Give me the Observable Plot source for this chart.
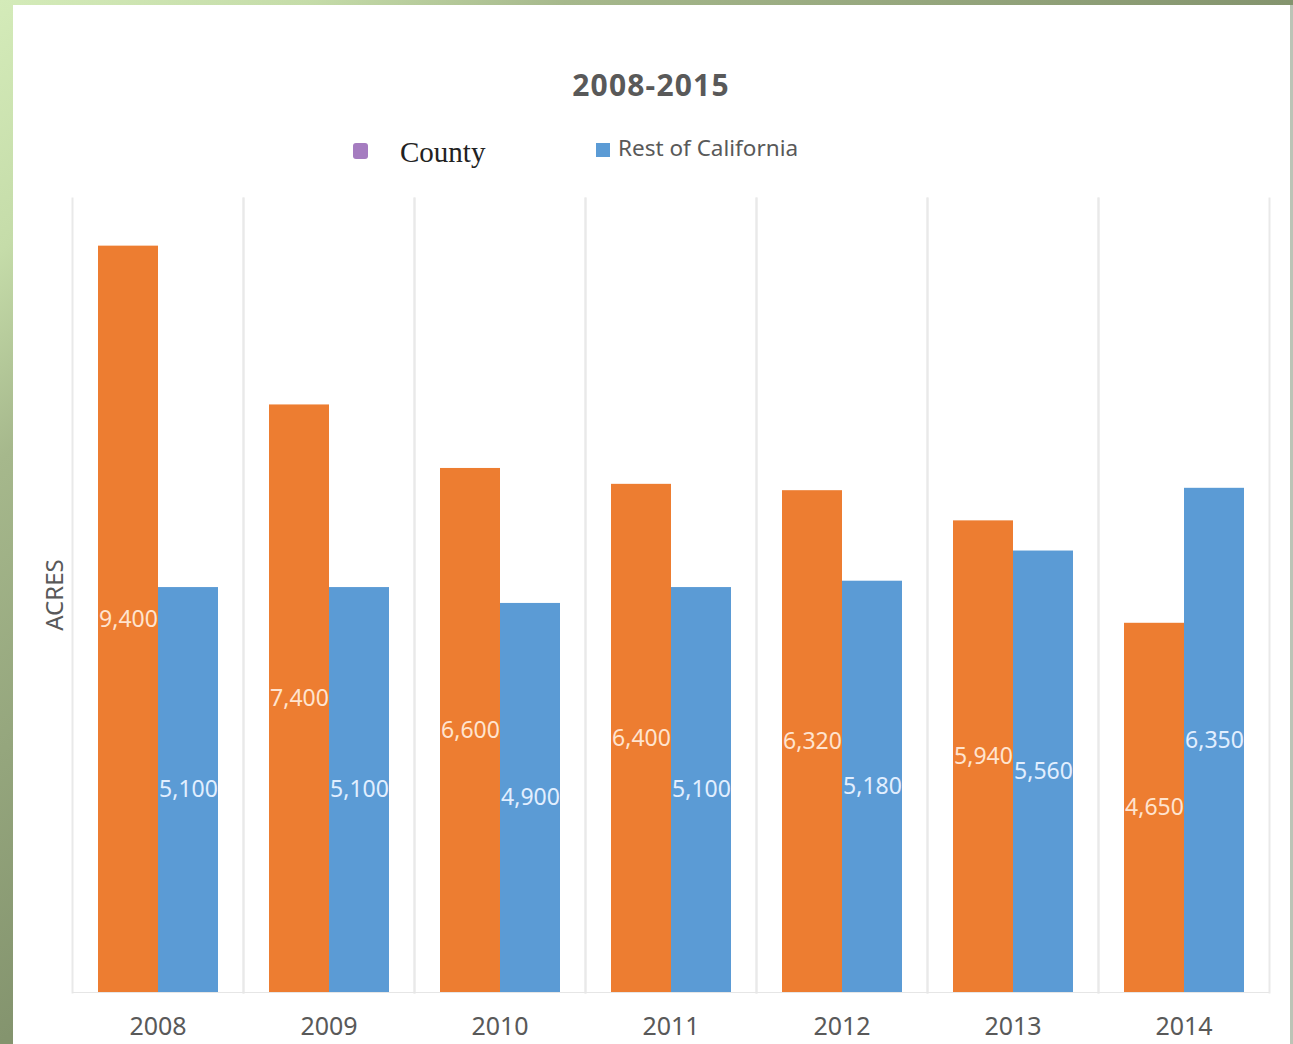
<!DOCTYPE html>
<html><head><meta charset="utf-8">
<script src="https://cdn.jsdelivr.net/npm/d3@7"></script>
<script src="https://cdn.jsdelivr.net/npm/@observablehq/plot@0.6"></script>
<style>
body{margin:0;background:#fff;}
#page{position:relative;width:1293px;height:1044px;overflow:hidden;background:linear-gradient(to bottom right,#d4ebb9 0%,#c5dca9 12%,#a6b88c 22%,#84946e 50%,#788766 100%);font-family:"Noto Sans",sans-serif;}
#panel{position:absolute;left:13px;top:5px;width:1277px;height:1039px;background:#fff;}
#edge{position:absolute;left:1290px;top:5px;width:3px;height:1039px;background:#bcc4b6;}
#chart{position:absolute;left:0;top:0;}
#title{position:absolute;left:0;width:1302px;top:70px;text-align:center;font-size:30px;line-height:30px;font-weight:bold;letter-spacing:1.2px;color:#595959;}
.sw{position:absolute;}
#lg1{position:absolute;left:400px;top:138px;font-family:"Liberation Serif",serif;font-size:29px;line-height:29px;color:#222;white-space:nowrap;}
#lg2{position:absolute;left:618px;top:137px;font-size:22.5px;line-height:22.5px;color:#595959;white-space:nowrap;}
#ylab{position:absolute;left:-6px;top:580px;width:120px;height:30px;line-height:30px;text-align:center;font-size:24px;color:#595959;transform:rotate(-90deg);}
</style>
</head><body>
<div id="page">
  <div id="panel"></div>
  <div id="edge"></div>
  <div id="chart"></div>
  <div id="title">2008-2015</div>
  <div class="sw" style="left:353px;top:143px;width:15px;height:16px;border-radius:3px;background:#a57cc0;"></div>
  <div id="lg1">County</div>
  <div class="sw" style="left:596px;top:143px;width:14px;height:14px;background:#5b9bd5;"></div>
  <div id="lg2">Rest of California</div>
  <div id="ylab">ACRES</div>
</div>
<script>
const years = ["2008","2009","2010","2011","2012","2013","2014"];
const seriesNames = ["County","Rest of California"];
const county = [9400,7400,6600,6400,6320,5940,4650];
const rest = [5100,5100,4900,5100,5180,5560,6350];
const seriesColors = ["#ed7d31","#5b9bd5"];
const labelColors = ["#ffe4cf","#e2efff"];

const data = years.flatMap((y,i)=>[
  {year:y, series:seriesNames[0], value:county[i]},
  {year:y, series:seriesNames[1], value:rest[i]}
]);
const fmt = d3.format(",");

const chart = Plot.plot({
  width:1293, height:1044,
  marginTop:198, marginBottom:52, marginLeft:69, marginRight:22,
  style:{background:"transparent", fontFamily:"Noto Sans", color:"#595959"},
  fx:{domain:years, padding:0, label:null},
  x:{domain:seriesNames, paddingInner:0, paddingOuter:0.41, axis:null},
  y:{domain:[0,10000], axis:null},
  color:{domain:seriesNames, range:seriesColors},
  marks:[
    Plot.frame({anchor:"left", stroke:"#e9e9e9", strokeWidth:2}),
    Plot.frame({anchor:"right", stroke:"#e9e9e9", strokeWidth:2}),
    Plot.ruleY([0], {stroke:"#e6e6e6"}),
    Plot.barY(data, {fx:"year", x:"series", y:"value", fill:"series"}),
    Plot.text(data, {filter:d=>d.series===seriesNames[0], fx:"year", x:"series", y:d=>d.value/2, text:d=>fmt(d.value), fill:labelColors[0], fontSize:23}),
    Plot.text(data, {filter:d=>d.series===seriesNames[1], fx:"year", x:"series", y:d=>d.value/2, text:d=>fmt(d.value), fill:labelColors[1], fontSize:23}),
    Plot.axisFx({anchor:"bottom", tickSize:0, tickPadding:25, fontSize:25, fill:"#595959", label:null})
  ]
});
document.getElementById("chart").appendChild(chart);
</script>
</body></html>
